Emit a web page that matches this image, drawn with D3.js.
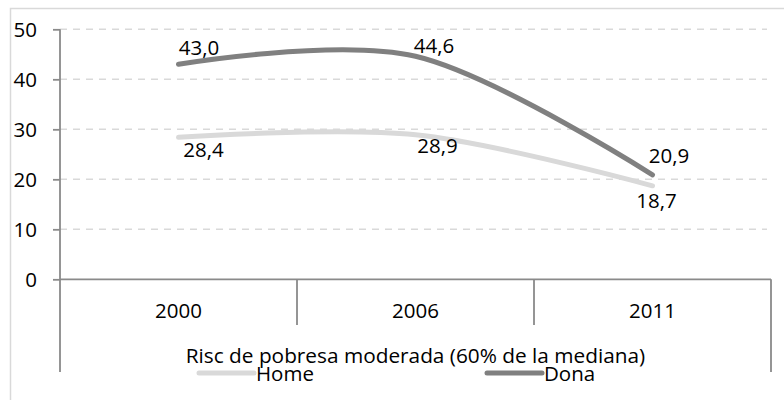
<!DOCTYPE html>
<html>
<head>
<meta charset="utf-8">
<script src="https://cdn.jsdelivr.net/npm/d3@7"></script>
<style>
  body { margin: 0; background: #fff; }
  text { font-family: "Open Sans", sans-serif; fill: #000; }
</style>
</head>
<body>
<script>
// data
const years = ["2000", "2006", "2011"]
const home = [28.4, 28.9, 18.7]
const dona = [43.0, 44.6, 20.9]
const yTicks = [0, 10, 20, 30, 40, 50]
const axisTitle = "Risc de pobresa moderada (60% de la mediana)"

// label nudges (dx, dy from the point), like moved excel labels
const donaNudge = [[20.5, -9], [18.5, -3], [16.5, -11.5]]
const homeNudge = [[25, 20], [22, 18.5], [4, 22.5]]

const svgWidth = 784
const svgHeight = 400
const plot = { left: 60, right: 771, top: 29.3, bottom: 279.3 }
const fontSize = 20.5

const svg = d3.select("body").append("svg")
  .attr("width", svgWidth)
  .attr("height", svgHeight)

// outer frame (runs off the right and bottom)
svg.append("rect")
  .attr("x", 10.5).attr("y", 8.5)
  .attr("width", 800).attr("height", 420)
  .attr("fill", "none")
  .attr("stroke", "#d9d9d9")
  .attr("stroke-width", 1.5)

const x = d3.scaleBand().domain(years).range([plot.left, plot.right]).padding(0)
const y = d3.scaleLinear().domain([0, 50]).range([plot.bottom, plot.top])
const cx = d => x(d) + x.bandwidth() / 2

// grid
svg.append("g").selectAll("line")
  .data(yTicks.filter(d => d > 0))
  .enter().append("line")
  .attr("x1", plot.left).attr("x2", plot.right - 4)
  .attr("y1", d => y(d)).attr("y2", d => y(d))
  .attr("stroke", "#d9d9d9")
  .attr("stroke-width", 1.5)
  .attr("stroke-dasharray", "7,6")

// y axis
const yAxis = d3.axisLeft(y).tickValues(yTicks).tickSize(7).tickPadding(16).tickFormat(d3.format("d"))
const gy = svg.append("g")
  .attr("transform", "translate(" + plot.left + ",0)")
  .call(yAxis)
gy.select(".domain").remove()
gy.selectAll(".tick line").attr("stroke", "#8a8a8a").attr("stroke-width", 1.8)
gy.selectAll(".tick text").style("font-size", fontSize + "px").attr("dy", "0.36em")

// x axis line and band dividers
const axisCol = "#8a8a8a"
svg.append("line")
  .attr("x1", plot.left).attr("x2", plot.right)
  .attr("y1", y(0)).attr("y2", y(0))
  .attr("stroke", axisCol).attr("stroke-width", 1.8)

const bounds = years.map(d => x(d)).concat([plot.right])
svg.append("g").selectAll("line")
  .data(bounds)
  .enter().append("line")
  .attr("x1", d => d).attr("x2", d => d)
  .attr("y1", (d, i) => (i === 0 ? plot.top : y(0)))
  .attr("y2", (d, i) => (i === 0 || i === bounds.length - 1) ? 372 : 325)
  .attr("stroke", axisCol).attr("stroke-width", 1.8)

// category labels
svg.append("g").selectAll("text")
  .data(years)
  .enter().append("text")
  .attr("x", d => cx(d))
  .attr("y", 318)
  .attr("text-anchor", "middle")
  .style("font-size", fontSize + "px")
  .text(d => d)

// axis title
svg.append("text")
  .attr("x", (plot.left + plot.right) / 2)
  .attr("y", 363)
  .attr("text-anchor", "middle")
  .style("font-size", "20.8px")
  .text(axisTitle)

// lines
const series = [
  { name: "Home", values: home, color: "#d9d9d9", nudge: homeNudge },
  { name: "Dona", values: dona, color: "#808080", nudge: donaNudge }
]

const line = d3.line()
  .x((d, i) => cx(years[i]))
  .y(d => y(d))
  .curve(d3.curveCardinal.tension(0))

series.forEach(s => {
  svg.append("path")
    .datum(s.values)
    .attr("d", line)
    .attr("fill", "none")
    .attr("stroke", s.color)
    .attr("stroke-width", 5)
    .attr("stroke-linecap", "round")
    .attr("stroke-linejoin", "round")
})

// data labels
const fmt = v => d3.format(".1f")(v).replace(".", ",")
series.forEach(s => {
  svg.append("g").selectAll("text")
    .data(s.values)
    .enter().append("text")
    .attr("x", (d, i) => cx(years[i]) + s.nudge[i][0])
    .attr("y", (d, i) => y(d) + s.nudge[i][1])
    .attr("text-anchor", "middle")
    .style("font-size", fontSize + "px")
    .text(d => fmt(d))
})

// legend
const legendX = [199, 487]
const legend = svg.selectAll(".legend")
  .data(series)
  .enter().append("g")
  .attr("class", "legend")
  .attr("transform", (d, i) => "translate(" + legendX[i] + ",373)")

legend.append("line")
  .attr("x1", 0).attr("x2", 55)
  .attr("stroke", d => d.color)
  .attr("stroke-width", 5)
  .attr("stroke-linecap", "round")

legend.append("text")
  .attr("x", 57)
  .attr("y", 8)
  .style("font-size", fontSize + "px")
  .text(d => d.name)
</script>
</body>
</html>
